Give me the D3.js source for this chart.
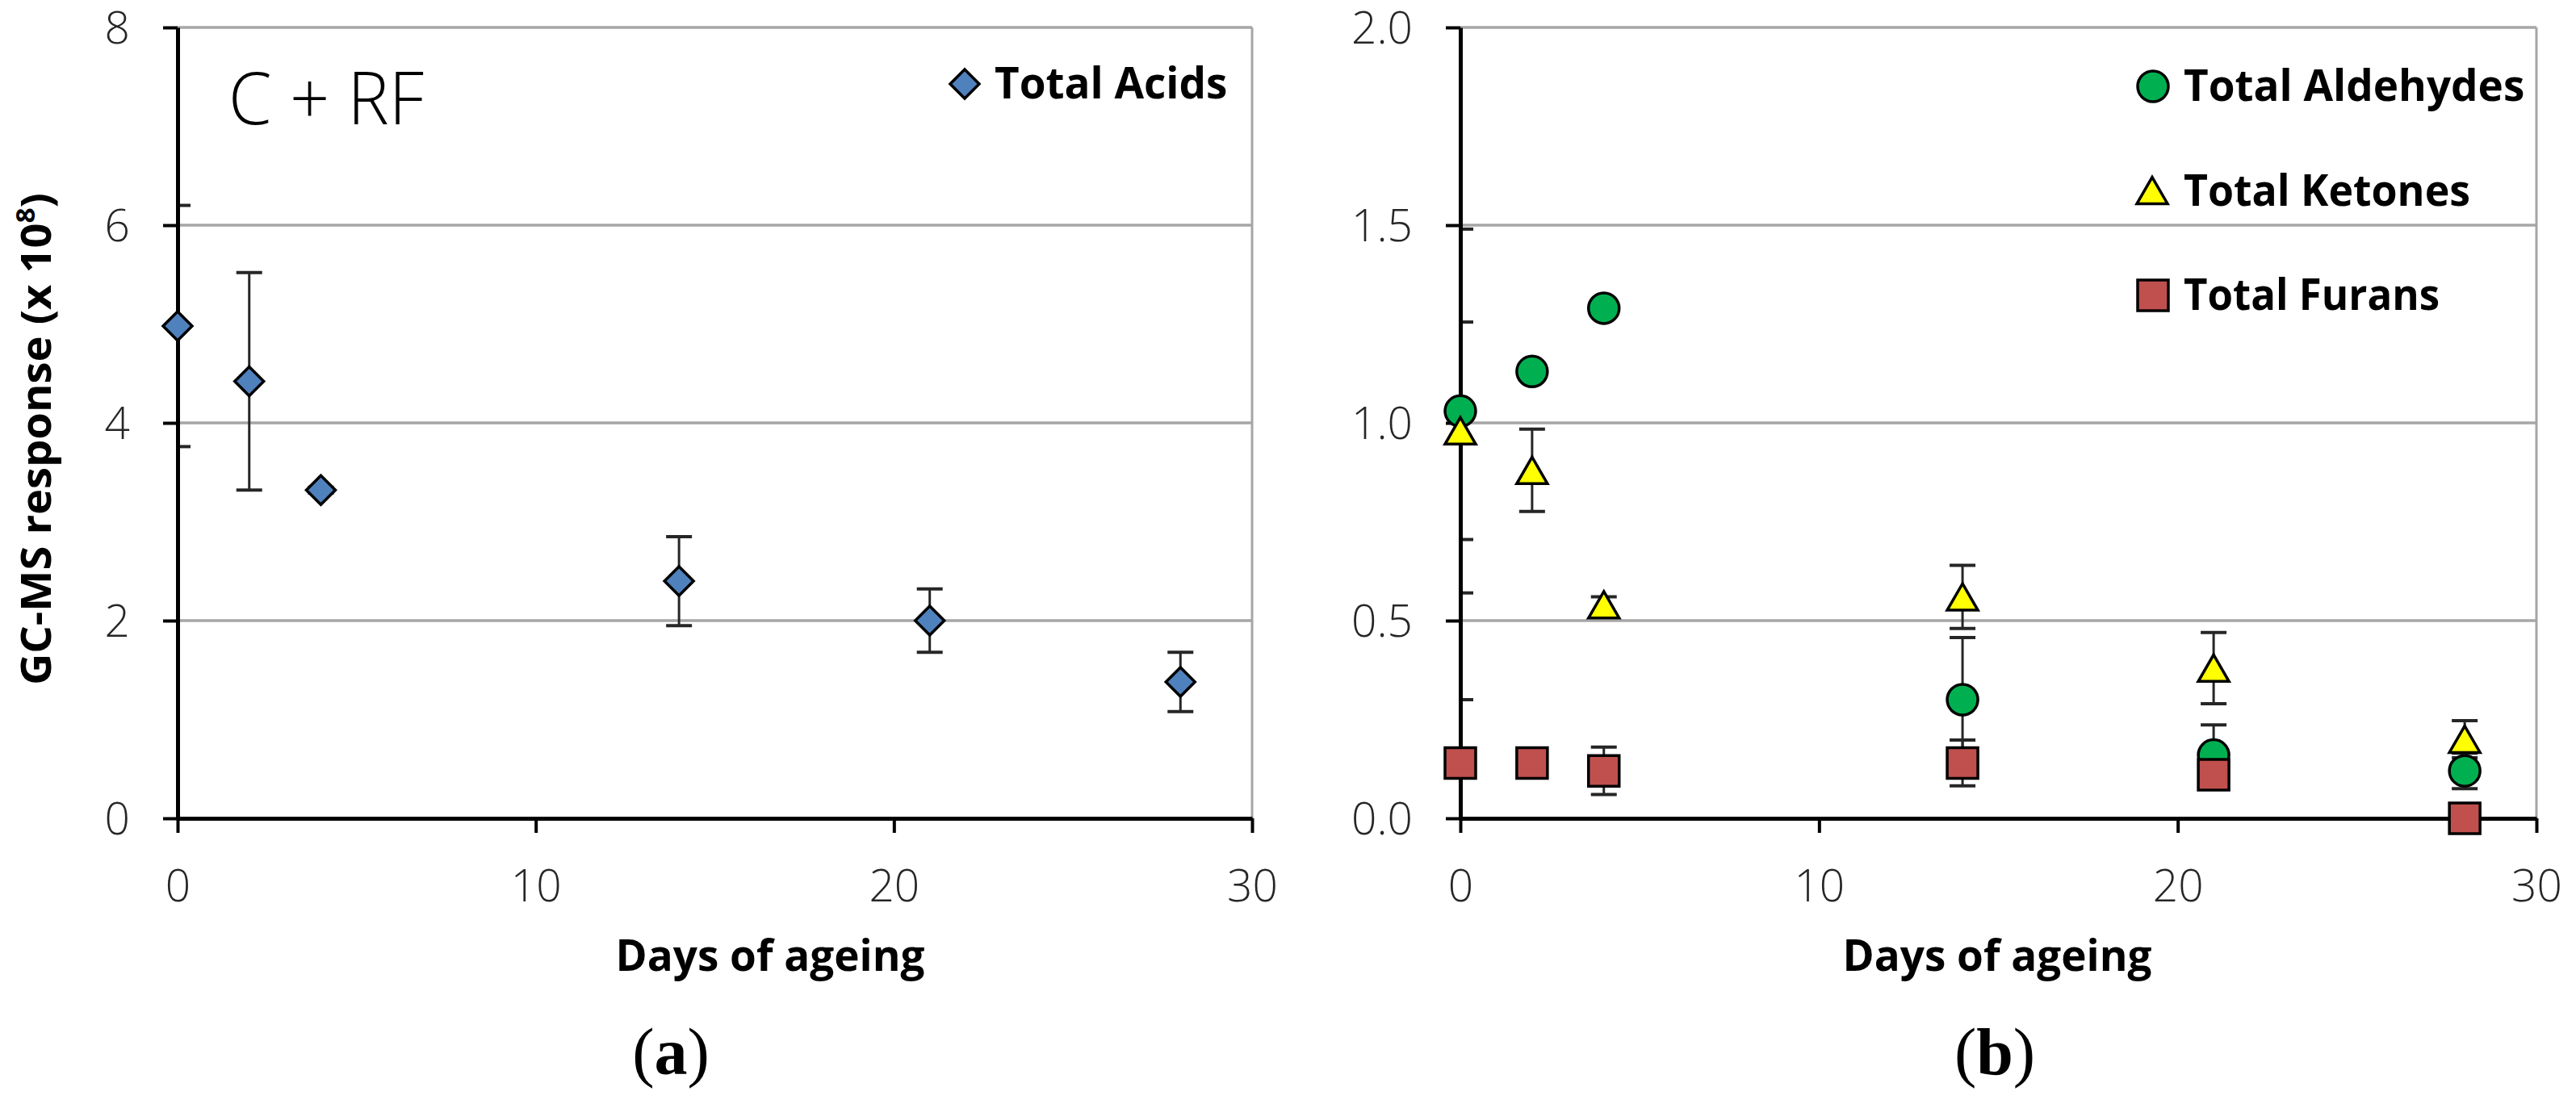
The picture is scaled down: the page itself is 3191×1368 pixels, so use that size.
<!DOCTYPE html>
<html>
<head>
<meta charset="utf-8">
<script src="https://cdn.jsdelivr.net/npm/d3@7"></script>
<style>
  html, body { margin: 0; padding: 0; background: #fff; }
  svg { display: block; }
  .tick text { font-family: "Open Sans", "Lato", sans-serif; font-weight: 300; fill: #262626; }
</style>
</head>
<body>
<svg id="chart" width="3191" height="1368"></svg>
<script>
// ---------------- data ----------------
const days = [0, 2, 4, 14, 21, 28];

const acids      = [4.98, 4.42, 3.32, 2.40, 2.00, 1.38];
const acidsErr   = [1.22, 1.10, 0.03, 0.45, 0.32, 0.30];

const aldehydes    = [1.03, 1.13, 1.29, 0.30, 0.16, 0.12];
const aldehydesErr = [0.46, 0.01, 0.01, 0.157, 0.076, 0.045];

const ketones    = [0.98, 0.88, 0.54, 0.56, 0.38, 0.20];
const ketonesErr = [0.275, 0.104, 0.02, 0.08, 0.09, 0.047];

const furans    = [0.14, 0.14, 0.12, 0.14, 0.11, 0.00];
const furansErr = [0.16, 0.01, 0.06, 0.058, 0.02, 0.01];

const xTicks      = [0, 10, 20, 30];
const yTicksLeft  = [0, 2, 4, 6, 8];
const yTicksRight = [0, 0.5, 1.0, 1.5, 2.0];

const leftSeries  = [{name: "Total Acids", values: acids, err: acidsErr, shape: "diamond", fill: "#4f81bd"}];
const rightSeries = [
  {name: "Total Aldehydes", values: aldehydes, err: aldehydesErr, shape: "circle",   fill: "#00b050"},
  {name: "Total Ketones",   values: ketones,   err: ketonesErr,   shape: "triangle", fill: "#ffff00"},
  {name: "Total Furans",    values: furans,    err: furansErr,    shape: "square",   fill: "#c0504d"}
];

// ---------------- symbols ----------------
const diamondType = { draw(ctx, size) { const r = Math.sqrt(size / 2); ctx.moveTo(0, -r); ctx.lineTo(r, 0); ctx.lineTo(0, r); ctx.lineTo(-r, 0); ctx.closePath(); } };
const triangleType = { draw(ctx, size) { const w = Math.sqrt(4 * size / Math.sqrt(3)); const h = w * Math.sqrt(3) / 2; ctx.moveTo(0, -h / 2); ctx.lineTo(w / 2, h / 2); ctx.lineTo(-w / 2, h / 2); ctx.closePath(); } };
const shapes = {
  diamond:  d3.symbol().type(diamondType).size(2 * 18 * 18),
  circle:   d3.symbol().type(d3.symbolCircle).size(Math.PI * 19 * 19),
  square:   d3.symbol().type(d3.symbolSquare).size(38 * 38),
  triangle: d3.symbol().type(triangleType).size(38 * 38 * Math.sqrt(3) / 4)
};

const svg = d3.select("#chart");
const plotTop = 34, plotBottom = 1014;
const boldFont = '"Open Sans", "Lato", sans-serif';

function fit(sel, w) {
  sel.each(function () {
    const L = this.getComputedTextLength();
    if (L > 0 && Math.abs(L - w) / w > 0.02) {
      d3.select(this).attr("textLength", w).attr("lengthAdjust", "spacingAndGlyphs");
    }
  });
}

function panel(cfg) {
  const x = d3.scaleLinear().domain([0, 30]).range([cfg.x0, cfg.x1]);
  const y = d3.scaleLinear().domain(cfg.yDomain).range([plotBottom, plotTop]);
  const g = svg.append("g");

  // gridlines
  g.append("g").selectAll("line").data(cfg.yTicks.filter(d => d > 0)).join("line")
    .attr("x1", cfg.x0).attr("x2", cfg.x1)
    .attr("y1", d => y(d)).attr("y2", d => y(d))
    .attr("stroke", "#a6a6a6").attr("stroke-width", 3.5);
  // right border
  g.append("line").attr("x1", cfg.x1).attr("x2", cfg.x1).attr("y1", plotTop).attr("y2", plotBottom)
    .attr("stroke", "#a6a6a6").attr("stroke-width", 3);

  // clip for error bars
  const clipId = "clip" + cfg.id;
  svg.append("defs").append("clipPath").attr("id", clipId).append("rect")
    .attr("x", cfg.x0).attr("y", plotTop).attr("width", cfg.x1 - cfg.x0).attr("height", plotBottom - plotTop);

  // error bars
  const eb = g.append("g").attr("clip-path", `url(#${clipId})`);
  cfg.series.forEach(s => {
    const pts = days.map((d, i) => ({d, v: s.values[i], e: s.err[i]}));
    const gg = eb.append("g").attr("stroke", "#262626");
    gg.selectAll("line.v").data(pts).join("line").attr("class", "v")
      .attr("x1", p => x(p.d)).attr("x2", p => x(p.d))
      .attr("y1", p => y(p.v + p.e)).attr("y2", p => y(p.v - p.e)).attr("stroke-width", 3);
    ["u", "d"].forEach(k => {
      gg.selectAll("line.c" + k).data(pts).join("line")
        .attr("class", "c" + k)
        .attr("x1", p => x(p.d) - 16).attr("x2", p => x(p.d) + 16)
        .attr("y1", p => y(k === "u" ? p.v + p.e : p.v - p.e))
        .attr("y2", p => y(k === "u" ? p.v + p.e : p.v - p.e))
        .attr("stroke-width", 4);
    });
  });

  // axes
  const ya = g.append("g").attr("transform", `translate(${cfg.x0},0)`)
    .call(d3.axisLeft(y).tickValues(cfg.yTicks).tickFormat(cfg.fmt).tickSize(18).tickSizeOuter(0).tickPadding(41));
  const xa = g.append("g").attr("transform", `translate(0,${plotBottom})`)
    .call(d3.axisBottom(x).tickValues(xTicks).tickFormat(d3.format("d")).tickSize(18).tickSizeOuter(0).tickPadding(46));
  [ya, xa].forEach(a => {
    a.select(".domain").attr("stroke", "#000").attr("stroke-width", 5);
    a.selectAll(".tick line").attr("stroke", "#000").attr("stroke-width", 4);
    a.selectAll(".tick text").attr("font-size", 55).attr("fill", "#262626");
  });
  ya.selectAll(".tick text").attr("dy", "0.35em");

  // markers
  cfg.series.forEach(s => {
    g.append("g").selectAll("path").data(days.map((d, i) => ({d, v: s.values[i]}))).join("path")
      .attr("d", shapes[s.shape]())
      .attr("transform", p => `translate(${x(p.d)},${y(p.v)})`)
      .attr("fill", s.fill).attr("stroke", "#000").attr("stroke-width", 3.5);
  });

  // legend
  cfg.series.forEach((s, i) => {
    const L = cfg.legend[i];
    g.append("path").attr("d", shapes[s.shape]())
      .attr("transform", `translate(${L.mx},${L.my})`)
      .attr("fill", s.fill).attr("stroke", "#000").attr("stroke-width", 3.5);
    g.append("text").attr("x", L.tx).attr("y", L.ty).text(s.name)
      .attr("font-family", boldFont).attr("font-weight", 700).attr("font-size", 53).attr("fill", "#000")
      .call(fit, L.w);
  });

  // x title
  g.append("text").attr("x", cfg.titleX).attr("y", 1203).attr("text-anchor", "middle")
    .text("Days of ageing").attr("font-family", boldFont).attr("font-weight", 700)
    .attr("font-size", 53).attr("fill", "#000").call(fit, 378);

  // panel letter
  const lt = g.append("text").attr("x", cfg.letterX).attr("y", 1331).attr("text-anchor", "middle")
    .attr("font-family", '"Liberation Serif", "Times New Roman", serif').attr("font-size", 82).attr("fill", "#000");
  lt.append("tspan").text("(");
  lt.append("tspan").attr("font-weight", 700).text(cfg.letter);
  lt.append("tspan").text(")");

  return {x, y, g};
}

const left = panel({
  id: "L", x0: 220, x1: 1551, yDomain: [0, 8], yTicks: yTicksLeft, fmt: d3.format("d"),
  series: leftSeries,
  legend: [{mx: 1195, my: 104, tx: 1232, ty: 122, w: 283}],
  titleX: 954, letterX: 831, letter: "a"
});

const right = panel({
  id: "R", x0: 1809, x1: 3142, yDomain: [0, 2], yTicks: yTicksRight, fmt: d3.format(".1f"),
  series: rightSeries,
  legend: [
    {mx: 2667, my: 107, tx: 2705, ty: 125, w: 414},
    {mx: 2666, my: 236, tx: 2705, ty: 255, w: 355},
    {mx: 2667, my: 366, tx: 2705, ty: 384, w: 317}
  ],
  titleX: 2474, letterX: 2471, letter: "b"
});

// panel (a) annotation
left.g.append("text").attr("x", 283).attr("y", 154).text("C + RF")
  .attr("font-family", '"Open Sans", "Lato", sans-serif').attr("font-weight", 300)
  .attr("font-size", 91).attr("fill", "#000").call(fit, 242);

// y axis title
const yt = svg.append("text").attr("transform", "translate(63,544) rotate(-90)")
  .attr("text-anchor", "middle").attr("font-family", boldFont).attr("font-weight", 700)
  .attr("font-size", 52).attr("fill", "#000");
yt.append("tspan").text("GC-MS response (x 10");
yt.append("tspan").attr("font-size", 32).attr("dy", -20).text("8");
yt.append("tspan").attr("dy", 20).text(")");
yt.call(fit, 610);
</script>
</body>
</html>
